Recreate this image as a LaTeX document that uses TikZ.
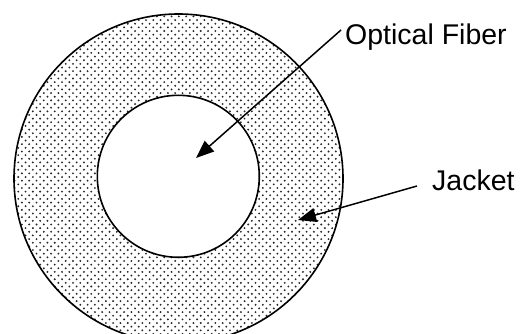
\documentclass[tikz,border=0pt]{standalone}
\usepackage{fontspec}
\setmainfont{Liberation Sans}
\usetikzlibrary{arrows.meta,patterns}
\pgfdeclarepatternformonly{jacketdots}{\pgfpoint{-1pt}{-1pt}}{\pgfpoint{8.3pt}{8.3pt}}{\pgfpoint{7.3pt}{7.3pt}}{%
  \pgfpathcircle{\pgfpoint{0pt}{0pt}}{1.05pt}%
  \pgfpathcircle{\pgfpoint{3.65pt}{3.65pt}}{1.05pt}%
  \pgfusepath{fill}}
\tikzset{
  ring/.style={draw=black,line width=1.6pt},
  lbl/.style={anchor=base west,inner sep=0pt,font=\fontsize{28.5}{34}\selectfont},
  pointer/.style={draw=black,line width=1.5pt,-{Triangle[length=18pt,width=14pt]}}
}
\begin{document}
\begin{tikzpicture}[x=1pt,y=-1pt]
\useasboundingbox (0,0) rectangle (530,334);
\begin{scope}
\clip (0,0) rectangle (530,334);
\path[pattern=jacketdots,pattern color=black!85,even odd rule]
  (178.5,178.5) circle[radius=164.5] (178.3,176.3) circle[radius=81];
\draw[ring] (178.5,178.5) circle[radius=164.5];
\draw[ring,fill=white] (178.3,176.3) circle[radius=81];
\end{scope}
\node[lbl] (fiber) at (345,45) {Optical Fiber};
\node[lbl] (jacket) at (432,190) {Jacket};
\coordinate (fstart) at (341,30);
\coordinate (ftip) at (196,158);
\coordinate (jstart) at (417,186);
\coordinate (jtip) at (298,220);
\draw[pointer] (fstart) -- (ftip);
\draw[pointer] (jstart) -- (jtip);
\end{tikzpicture}
\end{document}
